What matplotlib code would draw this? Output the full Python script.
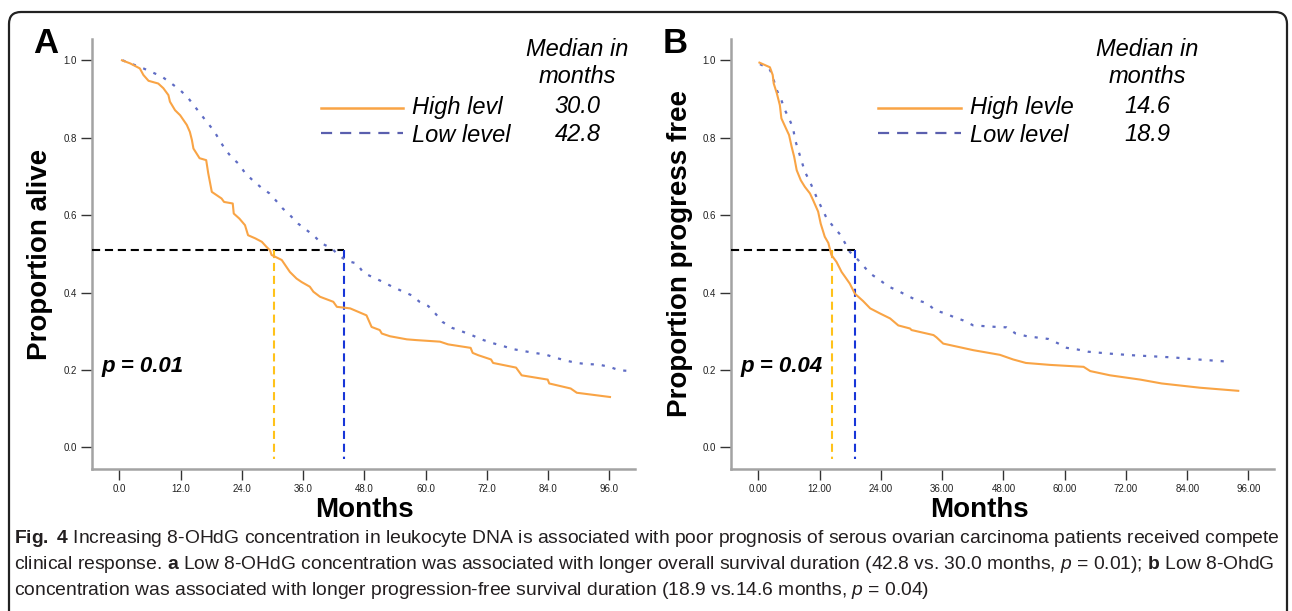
import matplotlib
matplotlib.use("Agg")
import matplotlib.pyplot as plt
import matplotlib.font_manager as fm
from matplotlib.patches import FancyBboxPatch
from matplotlib.transforms import IdentityTransform

# ---------------- data ----------------
a_high_months = [0.5, 2.1, 4.0, 4.7, 5.7, 7.6, 8.6, 9.6, 9.9, 10.9, 11.9, 13.2, 13.8, 14.2, 14.5, 15.7, 17.0, 17.4,
                 18.1, 20.0, 20.5, 22.2, 22.4, 23.5, 24.6, 25.2, 26.6, 27.9, 28.8, 29.5, 29.8, 31.8, 33.4, 34.7, 35.7,
                 37.3, 38.0, 39.3, 41.9, 42.6, 45.2, 48.4, 49.4, 51.0, 51.4, 53.0, 56.3, 58.2, 62.8, 64.4, 68.8, 69.2,
                 70.3, 72.8, 73.2, 77.7, 78.8, 83.9, 84.2, 88.4, 89.6, 96.1]
a_high_surv = [1.0, 0.992, 0.979, 0.962, 0.947, 0.940, 0.928, 0.910, 0.893, 0.871, 0.858, 0.833, 0.815, 0.794, 0.772,
               0.747, 0.742, 0.708, 0.660, 0.643, 0.634, 0.630, 0.604, 0.591, 0.574, 0.548, 0.540, 0.531, 0.518, 0.509,
               0.497, 0.484, 0.453, 0.436, 0.427, 0.415, 0.402, 0.389, 0.376, 0.363, 0.359, 0.341, 0.311, 0.303, 0.294,
               0.287, 0.279, 0.277, 0.273, 0.266, 0.257, 0.244, 0.238, 0.227, 0.218, 0.206, 0.186, 0.175, 0.165, 0.152,
               0.141, 0.130]
a_low_months = [0.6, 4.7, 8.3, 10.2, 11.9, 13.5, 15.8, 17.1, 18.5, 20.7, 22.0, 23.4, 24.6, 26.1, 27.7, 29.4, 30.7,
                32.0, 33.4, 35.0, 36.7, 38.0, 39.6, 41.6, 42.9, 44.5, 46.5, 47.8, 49.7, 51.7, 53.3, 55.3, 57.2, 58.8,
                60.5, 62.0, 63.3, 65.1, 67.0, 69.0, 70.9, 72.9, 75.1, 77.0, 79.1, 81.2, 83.4, 85.3, 87.5, 89.6, 91.6,
                93.8, 96.0, 97.9, 100.3]
a_low_surv = [1.0, 0.979, 0.958, 0.940, 0.923, 0.902, 0.863, 0.841, 0.818, 0.770, 0.749, 0.732, 0.709, 0.690, 0.672,
              0.656, 0.637, 0.617, 0.600, 0.578, 0.561, 0.548, 0.527, 0.514, 0.497, 0.482, 0.475, 0.451, 0.439, 0.427,
              0.416, 0.404, 0.393, 0.376, 0.365, 0.344, 0.324, 0.309, 0.300, 0.290, 0.279, 0.270, 0.262, 0.254, 0.249,
              0.244, 0.240, 0.232, 0.224, 0.218, 0.215, 0.214, 0.208, 0.199, 0.197]

b_high_months = [0.2, 2.25, 2.8, 3.0, 3.6, 4.2, 4.5, 5.4, 6.0, 6.5, 7.0, 7.5, 8.3, 9.1, 10.1, 10.7, 11.7, 12.2, 13.0,
                 13.7, 14.3, 15.3, 16.3, 17.0, 17.9, 18.9, 20.5, 21.9, 23.8, 25.8, 27.4, 29.7, 30.0, 34.3, 34.9, 36.2,
                 42.1, 47.3, 49.9, 52.4, 57.1, 63.7, 65.0, 68.9, 74.8, 79.0, 86.5, 94.0]
b_high_surv = [0.994, 0.982, 0.962, 0.940, 0.915, 0.884, 0.850, 0.824, 0.807, 0.777, 0.751, 0.716, 0.690, 0.673, 0.656,
               0.639, 0.609, 0.578, 0.544, 0.528, 0.497, 0.479, 0.453, 0.440, 0.423, 0.397, 0.378, 0.359, 0.346, 0.333,
               0.315, 0.307, 0.303, 0.290, 0.284, 0.268, 0.251, 0.239, 0.227, 0.218, 0.213, 0.208, 0.197, 0.186, 0.175,
               0.165, 0.154, 0.146]
b_low_months = [0.3, 2.1, 2.6, 3.6, 4.5, 5.2, 6.0, 6.8, 7.2, 7.8, 8.5, 9.1, 10.1, 11.5, 13.4, 14.7, 16.0, 17.0, 17.9,
                19.4, 21.9, 23.8, 25.4, 27.4, 29.0, 31.0, 33.0, 34.6, 36.6, 38.2, 40.1, 42.1, 44.4, 46.7, 48.6, 50.4,
                52.6, 56.8, 58.8, 60.4, 62.4, 64.6, 68.9, 73.1, 77.4, 81.6, 83.9, 88.2, 92.4]
b_low_surv = [0.990, 0.979, 0.966, 0.923, 0.897, 0.871, 0.850, 0.824, 0.794, 0.768, 0.738, 0.712, 0.686, 0.643, 0.591,
              0.570, 0.550, 0.527, 0.505, 0.486, 0.449, 0.432, 0.416, 0.404, 0.393, 0.380, 0.373, 0.354, 0.346, 0.337,
              0.328, 0.315, 0.313, 0.311, 0.310, 0.294, 0.287, 0.280, 0.268, 0.257, 0.253, 0.247, 0.242, 0.238, 0.235,
              0.232, 0.229, 0.225, 0.221]

# median guide lines as drawn (level, high-group x, low-group x)
median_level = 0.511
a_median_lines = [30.2, 44.0]
b_median_lines = [14.35, 18.9]

a_legend = ["High levl", "Low level"]
b_legend = ["High levle", "Low level"]
a_medians = ["30.0", "42.8"]
b_medians = ["14.6", "18.9"]
x_ticks = [0, 12, 24, 36, 48, 60, 72, 84, 96]
y_ticks = [0.0, 0.2, 0.4, 0.6, 0.8, 1.0]
a_xticklabels = ["0.0", "12.0", "24.0", "36.0", "48.0", "60.0", "72.0", "84.0", "96.0"]
b_xticklabels = ["0.00", "12.00", "24.00", "36.00", "48.00", "60.00", "72.00", "84.00", "96.00"]
y_ticklabels = ["0.0", "0.2", "0.4", "0.6", "0.8", "1.0"]

caption_lines = [
    r"$\mathbf{Fig.\ 4}$ Increasing 8-OHdG concentration in leukocyte DNA is associated with poor prognosis of serous ovarian carcinoma patients received compete",
    r"clinical response. $\mathbf{a}$ Low 8-OHdG concentration was associated with longer overall survival duration (42.8 vs. 30.0 months, $p$ = 0.01); $\mathbf{b}$ Low 8-OhdG",
    r"concentration was associated with longer progression-free survival duration (18.9 vs.14.6 months, $p$ = 0.04)",
]

# ---------------- style ----------------
names = {f.name for f in fm.fontManager.ttflist}
SANS = "Liberation Sans" if "Liberation Sans" in names else "DejaVu Sans"
NARROW = "Liberation Sans Narrow" if "Liberation Sans Narrow" in names else SANS
plt.rcParams["font.family"] = [SANS, "DejaVu Sans"]
plt.rcParams["mathtext.fontset"] = "custom"
plt.rcParams["mathtext.rm"] = NARROW
plt.rcParams["mathtext.it"] = NARROW + ":italic"
plt.rcParams["mathtext.bf"] = NARROW + ":bold"

ORANGE = "#f9a445"
SLATE = "#5f6cc4"
LEG_BLUE = "#5a5fae"
YELLOW = "#ffc21a"
BLUE = "#1836d8"
SPINE = "#a3a3a3"

W, H = 1292, 611
fig = plt.figure(figsize=(W / 100, H / 100), dpi=100)


def fx(x):
    return x / W


def fy(y):
    return 1 - y / H


# outer rounded frame
frame = FancyBboxPatch((9, -20), 1278, H - 12 + 20, boxstyle="round,pad=0,rounding_size=12",
                       transform=IdentityTransform(), fill=False, edgecolor="#222222", linewidth=1.6)
fig.add_artist(frame)


def make_panel(left_px, months_h, surv_h, months_l, surv_l, med_lines, xticklabels):
    ax = fig.add_axes([fx(left_px), fy(469), 543 / W, 430 / H])
    ax.set_xlim(-5.37, 101.0)
    ax.set_ylim(-0.056, 1.055)
    for s in ["top", "right"]:
        ax.spines[s].set_visible(False)
    for s in ["left", "bottom"]:
        ax.spines[s].set_color(SPINE)
        ax.spines[s].set_linewidth(1.8)
    ax.set_xticks(x_ticks)
    ax.set_xticklabels(xticklabels, fontfamily=NARROW, fontsize=7)
    ax.set_yticks(y_ticks)
    ax.set_yticklabels(y_ticklabels, fontfamily=NARROW, fontsize=7)
    ax.tick_params(direction="out", length=8, width=1.0, color="#333333", pad=3, labelcolor="#222222")
    ax.patch.set_alpha(0)
    # median guides
    ax.plot([-5.37, med_lines[1]], [median_level, median_level], color="black", lw=1.5,
            linestyle=(0, (3.9, 2.3)), zorder=3)
    ax.plot([med_lines[0], med_lines[0]], [median_level, -0.031], color=YELLOW, lw=1.5,
            linestyle=(0, (3.9, 2.3)), zorder=3)
    ax.plot([med_lines[1], med_lines[1]], [median_level, -0.031], color=BLUE, lw=1.5,
            linestyle=(0, (3.9, 2.3)), zorder=3)
    # curves
    ax.plot(months_l, surv_l, color=SLATE, lw=1.6, linestyle=(0, (1.4, 3.6)), zorder=4)
    ax.plot(months_h, surv_h, color=ORANGE, lw=1.5, zorder=5)
    return ax


axA = make_panel(92, a_high_months, a_high_surv, a_low_months, a_low_surv, a_median_lines, a_xticklabels)
axB = make_panel(731, b_high_months, b_high_surv, b_low_months, b_low_surv, b_median_lines, b_xticklabels)

# panel letters
fig.text(fx(33), fy(53), "A", fontsize=25, fontweight="bold", va="baseline", ha="left")
fig.text(fx(663), fy(53), "B", fontsize=25, fontweight="bold", va="baseline", ha="left")

# axis labels
fig.text(fx(40), fy(254), "Proportion alive", rotation=90, fontsize=20, fontweight="bold", ha="center", va="center")
fig.text(fx(680), fy(254), "Proportion progress free", rotation=90, fontsize=20, fontweight="bold",
         ha="center", va="center")
fig.text(fx(364), fy(517), "Months", fontsize=20, fontweight="bold", ha="center", va="baseline")
fig.text(fx(979), fy(517), "Months", fontsize=20, fontweight="bold", ha="center", va="baseline")


def legend_block(line_x0, line_x1, text_x, col_x, labels, medians):
    fig.text(fx(col_x), fy(56), "Median in", fontsize=17, style="italic", ha="center", va="baseline")
    fig.text(fx(col_x), fy(83), "months", fontsize=17, style="italic", ha="center", va="baseline")
    fig.add_artist(plt.Line2D([fx(line_x0), fx(line_x1)], [fy(108), fy(108)], color=ORANGE, lw=1.8,
                              transform=fig.transFigure))
    fig.add_artist(plt.Line2D([fx(line_x0), fx(line_x1)], [fy(133), fy(133)], color=LEG_BLUE, lw=1.6,
                              linestyle=(0, (5.0, 3.6)), transform=fig.transFigure))
    fig.text(fx(text_x), fy(114), labels[0], fontsize=17, style="italic", ha="left", va="baseline")
    fig.text(fx(text_x), fy(142), labels[1], fontsize=17, style="italic", ha="left", va="baseline")
    fig.text(fx(col_x), fy(113), medians[0], fontsize=17, style="italic", ha="center", va="baseline")
    fig.text(fx(col_x), fy(141), medians[1], fontsize=17, style="italic", ha="center", va="baseline")


legend_block(320.5, 403.4, 411.7, 577.5, a_legend, a_medians)
legend_block(878.3, 961.4, 969.7, 1147, b_legend, b_medians)

fig.text(fx(101), fy(372), "p = 0.01", fontsize=16, fontweight="bold", style="italic", ha="left", va="baseline")
fig.text(fx(740), fy(372), "p = 0.04", fontsize=16, fontweight="bold", style="italic", ha="left", va="baseline")

# caption, fitted to measured width of first line
cap_y = [543, 569, 595]
cap_texts = [fig.text(fx(14), fy(yy), s, fontsize=13, family=[NARROW, "DejaVu Sans"], color="#231f20",
                      ha="left", va="baseline") for s, yy in zip(caption_lines, cap_y)]
renderer = fig.canvas.get_renderer()
w0 = cap_texts[0].get_window_extent(renderer).width
scale = 1262.0 / w0
for t in cap_texts:
    t.set_fontsize(13 * scale)

fig.savefig("out.png", dpi=100)
